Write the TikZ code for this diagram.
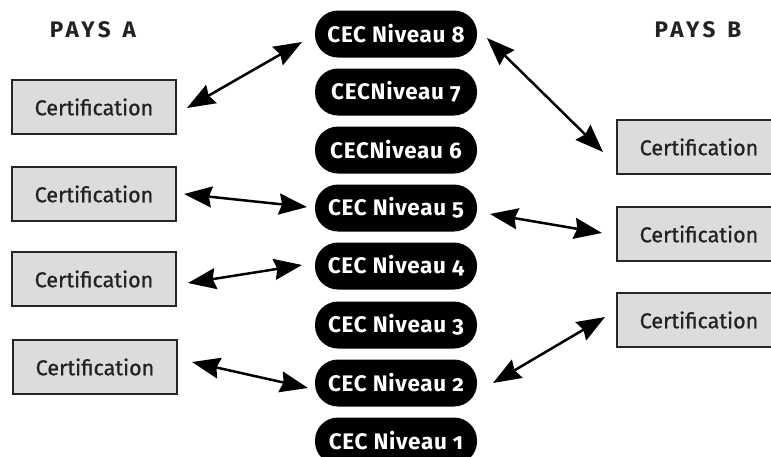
\documentclass[tikz,border=0pt]{standalone}
\usepackage{fontspec}
\setmainfont{Fira Sans}
\usetikzlibrary{arrows.meta}
\definecolor{boxgray}{HTML}{DCDCDE}
\definecolor{txtgray}{HTML}{222222}
\begin{document}
\begin{tikzpicture}[x=1pt,y=-1pt,
  cert/.style={draw=black!85, line width=1.6pt, fill=boxgray, minimum width=164pt, minimum height=54pt, inner sep=0pt, text=txtgray, font=\fontsize{21.5}{24}\selectfont\addfontfeatures{FakeBold=0.8}},
  level/.style={fill=black, text=white, rounded corners=23pt, minimum width=162pt, minimum height=47pt, inner sep=0pt, font=\fontsize{22.5}{24}\selectfont\bfseries\addfontfeatures{Numbers=OldStyle,LetterSpace=3}},
  pays/.style={text=txtgray, font=\fontsize{22.5}{24}\selectfont\bfseries\addfontfeatures{LetterSpace=16}},
  arr/.style={{Stealth[length=28pt,width=21pt,inset=3pt]}-{Stealth[length=28pt,width=21pt,inset=3pt]}, line width=2.5pt}]
\useasboundingbox (0,0) rectangle (771,456);
\clip (0,0) rectangle (771,456);
% titles
\node[pays] (pa) at (93,30) {PAYS\hspace{12pt}A};
\node[pays] (pb) at (698,30) {PAYS\hspace{12pt}B};
% left certifications
\node[cert] (la1) at (94,107) {Certification};
\node[cert] (la2) at (94,194) {Certification};
\node[cert] (la3) at (94,279) {Certification};
\node[cert] (la4) at (95,367) {Certification};
% right certifications
\node[cert] (rb1) at (699,147) {Certification};
\node[cert] (rb2) at (699,234) {Certification};
\node[cert] (rb3) at (699,320) {Certification};
% levels
\node[level] (n8) at (396,34) {CEC Niveau 8};
\node[level] (n7) at (396,92) {CECNiveau 7};
\node[level] (n6) at (396,150) {CECNiveau 6};
\node[level] (n5) at (396,208) {CEC Niveau 5};
\node[level] (n4) at (396,266) {CEC Niveau 4};
\node[level] (n3) at (396,325) {CEC Niveau 3};
\node[level] (n2) at (396,383) {CEC Niveau 2};
\node[level] (n1) at (396,441) {CEC Niveau 1};
% arrow end points
\coordinate (a1s) at (187,108); \coordinate (a1e) at (302,42);
\coordinate (a2s) at (184,194); \coordinate (a2e) at (307,207);
\coordinate (a3s) at (188,283); \coordinate (a3e) at (302,265);
\coordinate (a4s) at (192,362); \coordinate (a4e) at (308,388);
\coordinate (b1s) at (487,38);  \coordinate (b1e) at (603,152);
\coordinate (b2s) at (490,214); \coordinate (b2e) at (602,233);
\coordinate (b3s) at (493,383); \coordinate (b3e) at (605,317);
% arrows
\draw[arr] (a1s) -- (a1e);
\draw[arr] (a2s) -- (a2e);
\draw[arr] (a3s) -- (a3e);
\draw[arr] (a4s) -- (a4e);
\draw[arr] (b1s) -- (b1e);
\draw[arr] (b2s) -- (b2e);
\draw[arr] (b3s) -- (b3e);
\end{tikzpicture}
\end{document}
